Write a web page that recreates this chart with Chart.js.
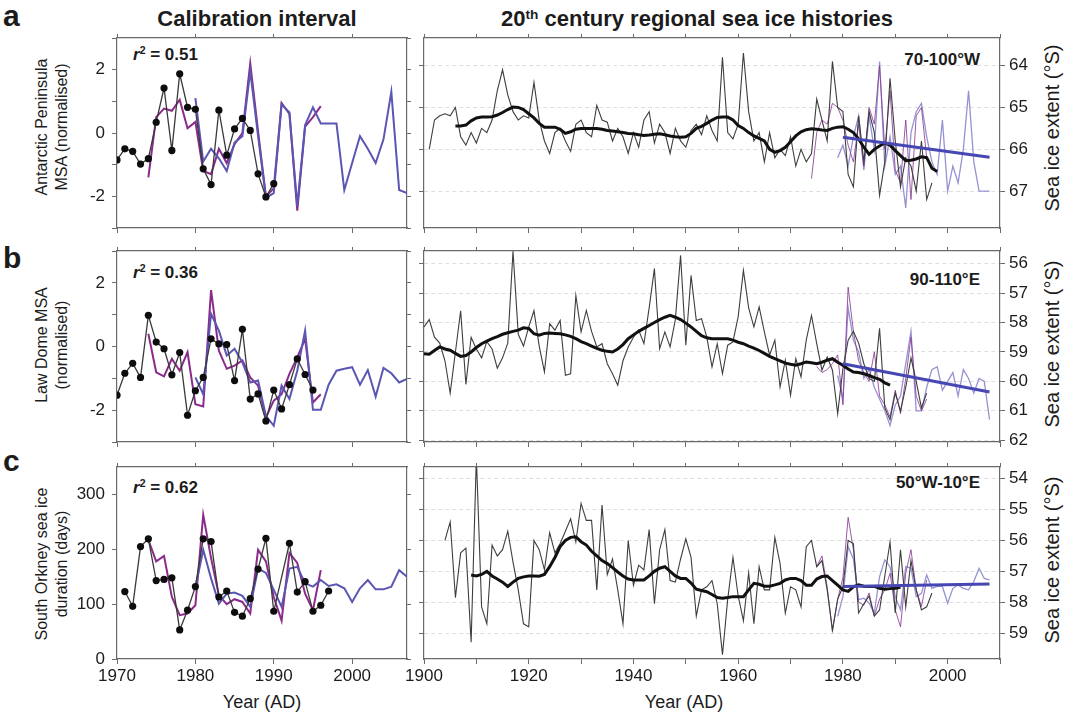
<!DOCTYPE html>
<html>
<head>
<meta charset="utf-8">
<script src="https://cdn.jsdelivr.net/npm/chart.js@4.4.1/dist/chart.umd.min.js"></script>
<style>
  body { margin: 0; background: #fff; font-family: "Liberation Sans", Arial, sans-serif; }
  #fig { position: relative; width: 1071px; height: 712px; overflow: hidden; background: #fff; }
  #fig canvas { position: absolute; }
  .t { position: absolute; color: #1c1c1c; white-space: nowrap; line-height: 1; }
  .b { font-weight: bold; }
  .rot { transform: translate(-50%, -50%) rotate(-90deg); text-align: center; line-height: 20px; }
  sup { font-size: 0.62em; vertical-align: 0.55em; line-height: 0; }
</style>
</head>
<body>
<div id="fig">
  <div class="t b" style="left:3px;top:1px;font-size:30px;">a</div>
  <div class="t b" style="left:3px;top:243px;font-size:30px;">b</div>
  <div class="t b" style="left:3px;top:446px;font-size:30px;">c</div>

  <div class="t b" style="left:257px;top:8px;font-size:22px;transform:translateX(-50%);">Calibration interval</div>
  <div class="t b" style="left:697px;top:8px;font-size:22px;transform:translateX(-50%);">20<sup>th</sup> century regional sea ice histories</div>

  <div class="t b" style="left:133px;top:46px;font-size:17px;"><i>r</i><sup>2</sup> = 0.51</div>
  <div class="t b" style="left:133px;top:264px;font-size:17px;"><i>r</i><sup>2</sup> = 0.36</div>
  <div class="t b" style="left:133px;top:479px;font-size:17px;"><i>r</i><sup>2</sup> = 0.62</div>

  <div class="t b" style="right:91px;top:51px;font-size:17px;">70-100°W</div>
  <div class="t b" style="right:91px;top:271px;font-size:17px;">90-110°E</div>
  <div class="t b" style="right:91px;top:474px;font-size:17px;">50°W-10°E</div>

  <div class="t rot" style="left:52px;top:127px;font-size:16px;">Antarctic Peninsula<br>MSA (normalised)</div>
  <div class="t rot" style="left:52px;top:345px;font-size:16px;">Law Dome MSA<br>(normalised)</div>
  <div class="t rot" style="left:52px;top:564px;font-size:16px;">South Orkney sea ice<br>duration (days)</div>

  <div class="t rot" style="left:1052px;top:128px;font-size:20px;">Sea ice extent (°S)</div>
  <div class="t rot" style="left:1052px;top:344px;font-size:20px;">Sea ice extent (°S)</div>
  <div class="t rot" style="left:1052px;top:560px;font-size:20px;">Sea ice extent (°S)</div>

  <div class="t" style="left:262px;top:693px;font-size:18px;transform:translateX(-50%);">Year (AD)</div>
  <div class="t" style="left:684px;top:693px;font-size:18px;transform:translateX(-50%);">Year (AD)</div>
</div>
<script>
// ---- calibration interval: ice-core MSA / station record (black) vs sea ice (purple, blue)
const apObsStart = 1970;
const apObs = [-0.85, -0.5, -0.58, -0.98, -0.81, 0.34, 1.42, -0.55, 1.87, 0.81, 0.75, -1.13, -1.63, 0.72, -0.7, 0.13, 0.46, 0.08, -1.29, -2.02, -1.6];
const apMagStart = 1974;
const apMag = [-1.4, 0.5, 0.77, 0.7, 1.05, 0.15, 0.35, -1.2, -1.3, -0.5, -0.95, -0.35, 0.0, 2.2, 0.05, -2.0, -1.75, 0.95, 0.6, -2.45, 0.2, 0.5, 0.85];
const apBlueStart = 1980;
const apBlue = [1.1, -0.9, -0.5, -0.8, -1.2, -0.3, -0.1, 1.95, -0.1, -2.05, -1.9, 0.9, 0.65, -2.3, 0.25, 0.81, 0.3, 0.3, 0.3, -1.8, -0.95, -0.1, -0.5, -0.95, -0.2, 1.3, -1.8, -1.9];

const ldObsStart = 1970;
const ldObs = [-1.53, -0.84, -0.53, -0.97, 0.98, 0.14, -0.07, -0.89, -0.19, -2.16, -1.39, -0.97, 0.24, 0.08, 0.06, -1.07, 0.54, -1.65, -1.49, -2.34, -1.37, -1.96, -1.2, -0.39, -0.88, -1.37];
const ldMagStart = 1974;
const ldMag = [0.4, -0.81, -0.94, -0.39, -0.76, -0.18, -1.81, -1.88, 1.77, -0.13, -0.7, -0.6, -0.44, -0.97, -1.23, -2.23, -1.7, -1.5, -0.86, -0.34, 0.24, -1.76, -1.5];
const ldBlueStart = 1980;
const ldBlue = [-0.97, -1.5, 1.03, 0.5, -0.28, -0.07, -0.5, -1.13, -1.07, -2.18, -2.49, -1.23, -1.65, -0.76, 0.5, -1.99, -1.99, -1.2, -0.76, -0.7, -0.65, -1.2, -0.74, -1.57, -0.67, -0.84, -1.13, -1.02];

const soObsStart = 1971;
const soObs = [123, 96, 205, 219, 143, 145, 148, 53, 89, 132, 219, 214, 113, 124, 85, 78, 110, 164, 220, 87, null, 211, 122, 141, 87, 98, 124];
const soMagStart = 1974;
const soMag = [217, 178, 188, 113, 80, 83, 98, 263, 184, 116, 100, 109, 104, 83, 199, 178, 113, 70, 193, 175, 119, 89, 162];
const soBlueStart = 1980;
const soBlue = [130, 199, 147, 101, 119, 121, 115, 95, 165, 157, 126, 95, 165, 168, 138, 132, 144, 133, 136, 129, 104, 129, 144, 127, 127, 132, 162, 150];

// ---- 20th century reconstructions (deg S): annual, smoothed, obs, satellite, trend
const wReconStart = 1901;
const wRecon = [66.0, 65.3, 65.2, 65.15, 65.2, 65.0, 65.7, 65.9, 65.6, 65.85, 65.5, 65.6, 65.3, 64.6, 64.1, 64.7, 65.1, 65.3, 65.2, 65.25,
  64.4, 65.3, 65.8, 66.1, 65.6, 65.5, 65.8, 66.05, 65.4, 65.3, 65.6, 65.7, 64.95, 65.3, 65.35, 65.8, 65.5, 65.7, 66.1, 65.6,
  65.95, 65.3, 65.1, 65.85, 65.4, 65.6, 66.1, 65.5, 65.8, 65.95, 65.55, 65.4, 65.65, 65.2, 65.55, 65.8, 63.8, 65.6, 65.75, 65.4,
  63.7, 65.1, 65.8, 65.6, 66.3, 65.6, 66.2, 66.0, 66.15, 65.7, 66.4, 66.0, 66.3, 66.1, 64.8, 65.3, 65.8, 63.9, 65.0, 65.1,
  66.6, 66.9, 65.2, 66.3, 65.1, 65.6, 67.1, 66.3, 64.3, 65.8, 66.9, 66.2, 66.4, 67.0, 65.8, 67.2, 66.8];
const wSmoothStart = 1906;
const wSmooth = [65.44, 65.44, 65.42, 65.32, 65.25, 65.23, 65.23, 65.22, 65.18, 65.12, 65.05, 64.99, 65.0, 65.05, 65.15, 65.25, 65.38, 65.47, 65.47, 65.47,
  65.52, 65.62, 65.58, 65.52, 65.5, 65.5, 65.5, 65.5, 65.52, 65.55, 65.56, 65.58, 65.6, 65.62, 65.63, 65.65, 65.67, 65.66, 65.64, 65.63,
  65.65, 65.68, 65.7, 65.71, 65.7, 65.62, 65.5, 65.45, 65.38, 65.3, 65.24, 65.23, 65.23, 65.3, 65.43, 65.5, 65.6, 65.68, 65.74, 65.8,
  66.0, 66.07, 66.03, 65.95, 65.82, 65.68, 65.58, 65.53, 65.51, 65.52, 65.54, 65.55, 65.5, 65.47, 65.46, 65.52, 65.6, 65.75, 65.95, 66.12,
  66.0, 65.92, 65.85, 65.9, 66.03, 66.15, 66.27, 66.26, 66.23, 66.18, 66.2, 66.45, 66.53];
const wObsStart = 1974;
const wObs = [66.7, 65.6, 65.3, 65.4, 64.9, 65.0, 65.3, 65.9, 66.3, 65.4, 66.4, 65.0, 65.4, 64.0, 66.0, 64.6, 66.5, 66.8, 65.3, 67.2, 65.2, 65.0, 66.2];
const wSatStart = 1979;
const wSat = [66.2, 65.9, 66.4, 65.7, 65.2, 66.5, 65.2, 66.0, 63.9, 66.4, 65.7, 66.6, 66.4, 67.4, 65.6, 65.1, 64.9, 65.7, 66.3, 66.6,
  65.3, 67.0, 66.4, 66.8, 66.0, 64.6, 66.3, 67.0, 67.0, 67.0];
const trendYears = [1980, 2008];
const wTrend = [65.71, 66.19];

const eReconStart = 1900;
const eRecon = [58.15, 57.9, 58.5, 58.7, 59.3, 60.4, 59.0, 57.6, 60.1, 58.5, 58.9, 59.2, 58.65, 58.9, 59.55, 59.2, 58.7, 55.58, 58.4, 58.8,
  58.15, 57.6, 58.8, 59.68, 58.04, 58.26, 57.93, 59.79, 59.74, 57.08, 58.32, 57.59, 58.3, 58.83, 58.72, 59.4, 59.74, 60.13, 59.3, 58.83,
  58.5, 58.26, 58.72, 57.5, 56.17, 58.89, 58.32, 58.83, 57.9, 55.72, 58.77, 56.4, 57.93, 57.87, 58.49, 59.51, 58.72, 59.74, 58.77, 58.66,
  57.8, 56.23, 57.5, 58.15, 57.47, 58.32, 59.11, 58.6, 60.19, 59.28, 60.47, 59.23, 59.85, 58.6, 57.76, 58.72, 59.62, 59.17, 59.62, 61.1,
  59.57, 58.6, 58.3, 58.7, 59.4, 59.9, 60.0, 58.2, 60.9, 61.3, 60.4, 61.0, 60.2, 59.2, 60.0, 60.9, 60.4];
const eSmoothStart = 1900;
const eSmooth = [59.06, 59.08, 58.95, 58.83, 58.9, 58.94, 59.05, 59.15, 59.12, 59.0, 58.85, 58.72, 58.63, 58.55, 58.48, 58.4, 58.35, 58.3, 58.26, 58.18,
  58.2, 58.38, 58.43, 58.37, 58.36, 58.37, 58.38, 58.42, 58.47, 58.55, 58.65, 58.72, 58.8, 58.88, 58.94, 58.98, 59.0, 58.9, 58.75, 58.55,
  58.42, 58.3, 58.2, 58.1, 58.0, 57.9, 57.82, 57.76, 57.82, 57.9, 58.02, 58.15, 58.3, 58.45, 58.52, 58.55, 58.55, 58.55, 58.55, 58.6,
  58.67, 58.72, 58.8, 58.87, 58.95, 59.05, 59.15, 59.23, 59.3, 59.38, 59.42, 59.45, 59.4, 59.34, 59.37, 59.4, 59.35, 59.28, 59.23, 59.35,
  59.45, 59.58, 59.68, 59.7, 59.74, 59.8, 59.87, 59.93, 60.05, 60.13];
const eObsStart = 1975;
const eObs = [59.5, 59.7, 59.6, 59.4, 59.1, 60.8, 56.8, 58.3, 59.3, 59.7, 60.0, 59.0, 60.5, 60.8, 61.2, 60.3, 61.1, 59.9, 58.5, 60.5, 61.0, 60.6];
const eSatStart = 1979;
const eSat = [59.8, 60.6, 57.5, 58.6, 59.0, 59.9, 59.6, 60.2, 60.6, 61.0, 61.5, 60.8, 60.5, 59.4, 58.3, 61.0, 61.0, 60.2, 59.6, 59.5,
  60.3, 60.0, 59.7, 60.5, 59.6, 59.9, 60.4, 59.9, 60.0, 61.3];
const eTrend = [59.4, 60.36];

const sReconStart = 1904;
const sRecon = [56.0, 55.4, 57.85, 56.4, 56.25, 59.3, 53.3, 58.15, 58.7, 56.15, 56.5, 56.3, 55.7, 56.7, 57.6, 58.7, 58.8, 56.0, 56.3, 56.95,
  55.75, 56.4, 56.1, 55.7, 55.3, 56.05, 54.8, 55.35, 55.35, 57.6, 54.85, 57.1, 56.6, 57.6, 58.7, 56.0, 57.45, 56.8, 56.95, 55.65,
  58.05, 56.3, 55.65, 57.3, 57.35, 56.6, 55.95, 56.55, 58.45, 57.6, 57.5, 57.3, 58.05, 59.7, 57.9, 56.55, 57.8, 58.6, 57.05, 58.7,
  56.85, 57.6, 57.6, 55.9, 56.75, 58.35, 57.5, 57.6, 58.15, 56.2, 56.0, 56.85, 56.65, 57.6, 58.9, 57.9, 57.5, 56.0, 56.1, 58.35,
  58.05, 57.8, 58.45, 58.25, 57.15, 56.05, 58.35, 56.3, 58.15, 56.65, 57.6, 58.25, 58.15, 57.7];
const sSmoothStart = 1909;
const sSmooth = [57.12, 57.15, 57.1, 57.0, 57.15, 57.25, 57.35, 57.49, 57.35, 57.23, 57.18, 57.15, 57.15, 57.16, 57.1, 56.85, 56.55, 56.2, 56.0, 55.9,
  55.88, 56.04, 56.15, 56.35, 56.5, 56.65, 56.75, 56.88, 57.02, 57.15, 57.25, 57.28, 57.28, 57.28, 57.15, 57.0, 56.9, 56.85, 57.0, 57.15,
  57.23, 57.23, 57.38, 57.58, 57.62, 57.66, 57.75, 57.85, 57.87, 57.85, 57.82, 57.82, 57.82, 57.6, 57.39, 57.42, 57.48, 57.48, 57.44, 57.39,
  57.28, 57.23, 57.23, 57.3, 57.45, 57.45, 57.25, 57.17, 57.15, 57.3, 57.45, 57.6, 57.65, 57.5, 57.44, 57.48, 57.49, 57.49, 57.55, 57.58,
  57.56, 57.55, 57.52];
const sObsStart = 1975;
const sObs = [56.85, 56.5, 57.5, 58.95, 57.9, 57.2, 55.25, 56.3, 58.0, 58.1, 57.7, 58.45, 57.9, 57.6, 57.06, 58.25, 58.8, 57.06, 56.3, 57.6, 58.14, 57.28];
const sSatStart = 1979;
const sSat = [58.46, 57.82, 56.2, 56.6, 57.92, 57.87, 58.03, 58.35, 57.17, 56.63, 56.85, 57.82, 58.25, 56.85, 56.9, 57.82, 57.71, 57.12, 57.55, 57.49,
  57.49, 58.03, 57.55, 57.44, 57.55, 57.6, 57.33, 56.9, 57.23, 57.28];
const sTrend = [57.49, 57.41];

// ---- layout
const rows = [{top: 38, bottom: 228}, {top: 251, bottom: 442}, {top: 467, bottom: 659}];
const leftFrame = {left: 117, right: 407, ml: 60, mr: 14};
const rightFrame = {left: 424, right: 1000, ml: 30, mr: 60};
const MT = 8, MB = 34;

const INK = '#1c1c1c';
const AXIS = '#6a6a6a';
const tickFont = {family: '"Liberation Sans", Arial, sans-serif', size: 17};

function toXY(start, values) {
  return values.map((v, i) => ({x: start + i, y: v}));
}

// fixed axis sizes so every plot frame lands on the same grid
function pinWidth(w) {
  return s => { s.width = w; s.paddingTop = 0; s.paddingBottom = 0; s.paddingLeft = 0; s.paddingRight = 0; };
}
function pinHeight(h) {
  return s => { s.height = h; s.paddingTop = 0; s.paddingBottom = 0; s.paddingLeft = 0; s.paddingRight = 0; };
}

function axis(pos, range, extra) {
  return Object.assign({
    type: 'linear',
    position: pos,
    min: range.min,
    max: range.max,
    reverse: !!range.reverse,
    ticks: {display: false, stepSize: range.step, includeBounds: false, autoSkip: false, maxRotation: 0},
    grid: {drawOnChartArea: false, tickLength: 5, color: AXIS, lineWidth: 1},
    border: {color: AXIS, width: 1.2}
  }, extra);
}

function panel(frame, row, xr, yr, datasets, opts) {
  const fig = document.getElementById('fig');
  const canvas = document.createElement('canvas');
  const w = frame.ml + (frame.right - frame.left) + frame.mr;
  const h = MT + (row.bottom - row.top) + MB;
  canvas.width = w;
  canvas.height = h;
  canvas.style.left = (frame.left - frame.ml) + 'px';
  canvas.style.top = (row.top - MT) + 'px';
  fig.appendChild(canvas);

  const labelled = {display: true, font: tickFont, color: INK, includeBounds: false, autoSkip: false, maxRotation: 0};

  const xBottom = axis('bottom', xr, {afterFit: pinHeight(MB)});
  xBottom.ticks = Object.assign({}, labelled, {
    display: opts.xLabels, stepSize: xr.step, padding: 2,
    callback: v => (v % xr.labelEvery === 0 ? String(v) : '')
  });
  const xTop = axis('top', xr, {afterFit: pinHeight(MT)});
  xTop.grid.tickLength = 4;

  const yLeft = axis('left', yr, {afterFit: pinWidth(frame.ml)});
  const yRight = axis('right', yr, {afterFit: pinWidth(frame.mr)});
  const yLab = Object.assign({}, labelled, {
    stepSize: yr.step, padding: opts.labelsRight ? 4 : 7,
    callback: v => (Math.abs(v % yr.labelEvery) < 1e-9 ? String(v) : '')
  });
  if (opts.labelsRight) {
    yRight.ticks = yLab;
    yLeft.grid = {drawOnChartArea: true, tickLength: 5, color: 'rgba(0,0,0,0.13)', tickColor: AXIS, lineWidth: 1};
    yLeft.border = {color: AXIS, width: 1.2, dash: [4, 3]};
  } else {
    yLeft.ticks = yLab;
    yRight.grid.tickLength = 4;
  }

  return new Chart(canvas, {
    type: 'line',
    data: {datasets: datasets},
    options: {
      responsive: false,
      animation: false,
      events: [],
      layout: {padding: 0},
      plugins: {legend: {display: false}, tooltip: {enabled: false}},
      elements: {line: {tension: 0}, point: {radius: 0}},
      scales: {x: xBottom, xt: xTop, y: yLeft, yr: yRight}
    }
  });
}

function obsLine(start, vals) {
  return {data: toXY(start, vals), borderColor: '#3a3a3a', borderWidth: 1.3, pointRadius: 3.6,
    pointBackgroundColor: '#0d0d0d', pointBorderWidth: 0, spanGaps: true, yAxisID: 'y', order: 1};
}
function magLine(start, vals) {
  return {data: toXY(start, vals), borderColor: '#8a2b8c', borderWidth: 2, pointRadius: 0, yAxisID: 'y', order: 3};
}
function blueLine(start, vals) {
  return {data: toXY(start, vals), borderColor: '#5a56b2', borderWidth: 2, pointRadius: 0, yAxisID: 'y', order: 2};
}

// right-hand panels plot against the labelled right axis
function iceSet(recon, reconStart, smooth, smoothStart, obs, obsStart, sat, satStart, trend) {
  return [
    {data: toXY(reconStart, recon), borderColor: '#3e3e3e', borderWidth: 1.1, yAxisID: 'yr', order: 3},
    {data: toXY(obsStart, obs), borderColor: 'rgba(140,60,150,0.85)', borderWidth: 1, yAxisID: 'yr', order: 4},
    {data: toXY(satStart, sat), borderColor: '#9593d2', borderWidth: 1.3, yAxisID: 'yr', order: 5},
    {data: toXY(smoothStart, smooth), borderColor: '#111111', borderWidth: 3, yAxisID: 'yr', order: 1},
    {data: trendYears.map((yr, i) => ({x: yr, y: trend[i]})), borderColor: '#4747b3', borderWidth: 3, yAxisID: 'yr', order: 0}
  ];
}

const calX = {min: 1970, max: 2007, step: 10, labelEvery: 10};
const cenX = {min: 1900, max: 2010, step: 10, labelEvery: 20};

panel(leftFrame, rows[0], calX, {min: -3, max: 3, step: 1, labelEvery: 2},
  [obsLine(apObsStart, apObs), blueLine(apBlueStart, apBlue), magLine(apMagStart, apMag)], {xLabels: false});
panel(leftFrame, rows[1], calX, {min: -3, max: 3, step: 1, labelEvery: 2},
  [obsLine(ldObsStart, ldObs), blueLine(ldBlueStart, ldBlue), magLine(ldMagStart, ldMag)], {xLabels: false});
panel(leftFrame, rows[2], calX, {min: 0, max: 350, step: 100, labelEvery: 100},
  [obsLine(soObsStart, soObs), blueLine(soBlueStart, soBlue), magLine(soMagStart, soMag)], {xLabels: true});

panel(rightFrame, rows[0], cenX, {min: 63.34, max: 67.88, step: 1, labelEvery: 1, reverse: true},
  iceSet(wRecon, wReconStart, wSmooth, wSmoothStart, wObs, wObsStart, wSat, wSatStart, wTrend), {xLabels: false, labelsRight: true});
panel(rightFrame, rows[1], cenX, {min: 55.57, max: 62.06, step: 1, labelEvery: 1, reverse: true},
  iceSet(eRecon, eReconStart, eSmooth, eSmoothStart, eObs, eObsStart, eSat, eSatStart, eTrend), {xLabels: false, labelsRight: true});
panel(rightFrame, rows[2], cenX, {min: 53.62, max: 59.84, step: 1, labelEvery: 1, reverse: true},
  iceSet(sRecon, sReconStart, sSmooth, sSmoothStart, sObs, sObsStart, sSat, sSatStart, sTrend), {xLabels: true, labelsRight: true});
</script>
</body>
</html>
